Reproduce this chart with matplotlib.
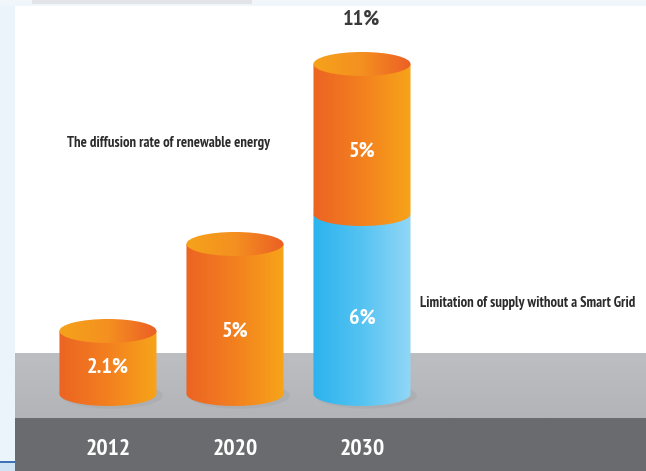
import numpy as np
import matplotlib
matplotlib.use("Agg")
import matplotlib.pyplot as plt
from matplotlib.colors import LinearSegmentedColormap
from matplotlib.patches import Ellipse, Polygon, Rectangle
from matplotlib.transforms import blended_transform_factory

#===================================================================================
#                         data
#===================================================================================
years      = ['2012', '2020', '2030']
renewable  = [2.1, 5.0, 5.0]     # orange part
limitation = [0.0, 0.0, 6.0]     # blue part (sits under the orange one)
total_lbl  = '11%'
txt_renew  = 'The diffusion rate of renewable energy'
txt_limit  = 'Limitation of supply without a Smart Grid'

#===================================================================================
#                         style
#===================================================================================
plt.rcParams['font.family'] = ['PT Sans Narrow', 'Fira Sans Condensed',
                               'Archivo Narrow', 'DejaVu Sans']
cm_orange = LinearSegmentedColormap.from_list('o', ['#ec6423', '#f3801f', '#f7a41a'])
cm_otop   = LinearSegmentedColormap.from_list('ot', ['#f6a21b', '#f49020', '#ec5f25'])
cm_blue   = LinearSegmentedColormap.from_list('b', ['#2cb3ee', '#55c3f2', '#92d7f6'])
width     = 0.764
ell_h     = 0.8
xs        = np.arange(len(years))

fig = plt.figure(figsize=(6.46, 4.71), dpi=100)
ax  = fig.add_axes([0, 0, 1, 1])
ax.set_xlim(-0.850, 4.236)
ax.set_ylim(-2.567, 13.133)
ax.axis('off')

# backdrop: white page, pale left / top strip, grey floor and dark band
ax.add_patch(Rectangle((0, 0), 1, 1, transform=ax.transAxes, fc='white', ec='none', zorder=0))
ax.add_patch(Rectangle((0, 0), 0.0232, 1, transform=ax.transAxes, fc='#ecf4fb', ec='none', zorder=1))
ax.add_patch(Rectangle((0, 0.988), 1, 0.012, transform=ax.transAxes, fc='#f1f6fa', ec='none', zorder=1))
ax.add_patch(Rectangle((0.05, 0.991), 0.34, 0.009, transform=ax.transAxes, fc='#e2e4e8', ec='none', zorder=1))
grad = np.linspace(0, 1, 64).reshape(-1, 1)
ax.imshow(grad, cmap=LinearSegmentedColormap.from_list('f', ['#b3b4b8', '#bdbec1']),
          extent=(0.0232, 1, 0.1125, 0.2485), transform=ax.transAxes,
          aspect='auto', origin='lower', zorder=1)
ax.add_patch(Rectangle((0.0232, 0), 1, 0.1125, transform=ax.transAxes, fc='#6a6b6f', ec='none', zorder=1))
ax.add_patch(Rectangle((0, 0.0170), 0.0232, 0.005, transform=ax.transAxes, fc='#3f73b5', ec='none', zorder=1))
ax.add_patch(Rectangle((0, 0), 0.0232, 0.0170, transform=ax.transAxes, fc='#cfe3f4', ec='none', zorder=1))

def arc(xc, yc, lower=True, n=60):
    t = np.linspace(np.pi, 2*np.pi, n) if lower else np.linspace(0, np.pi, n)
    return np.column_stack([xc + width/2*np.cos(t), yc + ell_h/2*np.sin(t)])

def body(xc, y0, y1, cmap, z):
    pts = np.vstack([arc(xc, y0), [[xc + width/2, y1], [xc - width/2, y1]]])
    clip = Polygon(pts, closed=True, fc='none', ec='none')
    ax.add_patch(clip)
    im = ax.imshow(np.linspace(0, 1, 128).reshape(1, -1), cmap=cmap,
                   extent=(xc - width/2, xc + width/2, y0 - ell_h/2, y1),
                   aspect='auto', zorder=z, interpolation='bilinear')
    im.set_clip_path(clip)

def lid(xc, y, cmap, z):
    e = Ellipse((xc, y), width, ell_h, fc='none', ec='none')
    ax.add_patch(e)
    im = ax.imshow(np.linspace(0, 1, 128).reshape(1, -1), cmap=cmap,
                   extent=(xc - width/2, xc + width/2, y - ell_h/2, y + ell_h/2),
                   aspect='auto', zorder=z, interpolation='bilinear')
    im.set_clip_path(e)

white = dict(color='white', fontsize=16, fontweight='bold', ha='center', va='center')
for i, x in enumerate(xs):
    b = limitation[i]
    top = b + renewable[i]
    # soft shadow on the floor
    ax.add_patch(Ellipse((x + 0.03, -0.05), width*1.05, ell_h*1.1, fc='#a9aaae', ec='none', alpha=0.6, zorder=2))
    if b > 0:
        body(x, 0, b, cm_blue, 3)
        ax.text(x, 0.42*b, '%g%%' % b, zorder=6, **white)
    body(x, b, top, cm_orange, 4)
    lid(x, top, cm_otop, 5)
    ax.text(x, b + 0.42*renewable[i], '%g%%' % renewable[i], zorder=6, **white)

ax.annotate(total_lbl, (xs[-1], limitation[-1] + renewable[-1]), xytext=(0, 32),
            textcoords='offset points', ha='center', va='center',
            fontsize=16, fontweight='bold', color='#3a3a3a')

trans = blended_transform_factory(ax.transData, ax.transAxes)
for x, yr in zip(xs, years):
    ax.text(x, 0.046, yr, transform=trans, color='white', fontsize=17,
            fontweight='bold', ha='center', va='center', zorder=6)

ax.text(0.104, 0.696, txt_renew, transform=ax.transAxes, fontsize=10.5,
        fontweight='bold', color='#2b2b2b', ha='left', va='center')
ax.text(0.650, 0.357, txt_limit, transform=ax.transAxes, fontsize=10.5,
        fontweight='bold', color='#2b2b2b', ha='left', va='center')

plt.savefig('out.png', dpi=100)
